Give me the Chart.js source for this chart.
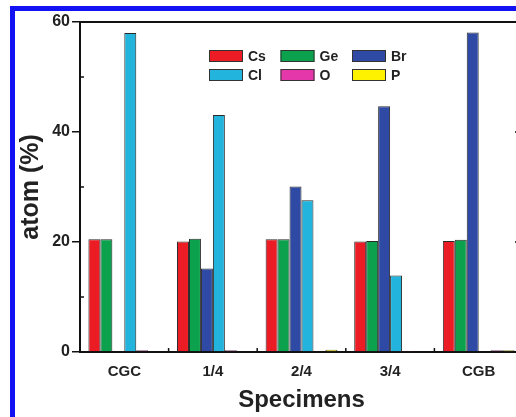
<!DOCTYPE html>
<html>
<head>
<meta charset="utf-8">
<script src="https://cdn.jsdelivr.net/npm/chart.js@4.4.0/dist/chart.umd.min.js"></script>
<style>
html, body { margin: 0; padding: 0; background: #fff; overflow: hidden; }
#wrap { position: absolute; left: 0; top: 0; width: 540px; height: 417px; }
#frame { position: absolute; left: 10px; top: 6px; width: 600px; height: 500px;
  border-top: 5px solid #1212f2; border-left: 5px solid #1212f2; }
</style>
</head>
<body>
<div id="wrap"><canvas id="chart" width="540" height="417"></canvas></div>
<div id="frame"></div>
<script>
// data
var specimens = ['CGC', '1/4', '2/4', '3/4', 'CGB'];
var elements = ['Cs', 'Ge', 'Br', 'Cl', 'O', 'P'];
var cs = [20.5, 20.1, 20.5, 20.1, 20.2];
var ge = [20.5, 20.6, 20.5, 20.2, 20.4];
var br = [0, 15.2, 30.1, 44.7, 58.1];
var cl = [58.0, 43.1, 27.6, 13.9, 0];
var ox = [0.3, 0.3, 0.1, 0.2, 0.3];
var ph = [0.1, 0.1, 0.4, 0.1, 0.3];
var yTicks = [0, 20, 40, 60];

var colors = ['#ec1c24', '#0ca14c', '#2e4aa4', '#22b4dc', '#e437aa', '#fff200'];
var series = [cs, ge, br, cl, ox, ph];

var FONT = '"Liberation Sans", Arial, sans-serif';
var INK = '#222';

var datasets = series.map(function (vals, i) {
  return {
    label: elements[i],
    data: vals,
    backgroundColor: colors[i],
    borderColor: '#2a2a2a',
    borderWidth: 1,
    borderSkipped: 'bottom',
    categoryPercentage: 0.81,
    barPercentage: 1.0
  };
});

// frame, minor ticks and the two-row legend
var extras = {
  id: 'extras',
  afterDraw: function (c) {
    var ctx = c.ctx, a = c.chartArea, ys = c.scales.y;
    ctx.save();
    ctx.strokeStyle = '#111';
    ctx.lineWidth = 2;
    ctx.beginPath();
    ctx.moveTo(a.left - 1, a.top);
    ctx.lineTo(a.right, a.top);
    ctx.lineTo(a.right, a.bottom);
    ctx.stroke();

    ctx.lineWidth = 1.5;
    ctx.beginPath();
    [10, 30, 50].forEach(function (v) {
      var py = ys.getPixelForValue(v);
      ctx.moveTo(a.left, py); ctx.lineTo(a.left + 4, py);
      ctx.moveTo(a.right, py); ctx.lineTo(a.right - 5, py);
    });
    yTicks.forEach(function (v) {
      var py = ys.getPixelForValue(v);
      ctx.moveTo(a.right, py); ctx.lineTo(a.right - 8, py);
    });
    var w = (a.right - a.left) / specimens.length;
    for (var i = 1; i < specimens.length; i++) {
      var px = a.left + i * w;
      ctx.moveTo(px, a.bottom); ctx.lineTo(px, a.bottom - 4);
    }
    ctx.stroke();

    // legend
    ctx.font = 'bold 14px ' + FONT;
    ctx.textBaseline = 'middle';
    ctx.textAlign = 'left';
    c.data.datasets.forEach(function (d, i) {
      var col = i % 3, row = Math.floor(i / 3);
      var bx = a.left + 129 + col * 71.5;
      var by = a.top + 28 + row * 19;
      ctx.fillStyle = d.backgroundColor;
      ctx.fillRect(bx, by, 34, 12);
      ctx.lineWidth = 1;
      ctx.strokeStyle = '#333';
      ctx.strokeRect(bx + 0.5, by + 0.5, 33, 11);
      ctx.fillStyle = INK;
      ctx.fillText(d.label, bx + 39, by + 7);
    });
    ctx.restore();
  }
};

var chart = new Chart(document.getElementById('chart'), {
  type: 'bar',
  data: { labels: specimens, datasets: datasets },
  plugins: [extras],
  options: {
    responsive: false,
    animation: false,
    layout: { padding: { top: 22, right: 17, left: 0, bottom: 0 } },
    plugins: { legend: { display: false }, tooltip: { enabled: false } },
    scales: {
      x: {
        grid: { display: false },
        border: { display: true, color: '#111', width: 2 },
        ticks: { color: INK, padding: 3, font: { family: FONT, size: 15, weight: 'bold' } },
        title: { display: true, text: 'Specimens', color: INK, padding: { top: 0, bottom: 2 },
          font: { family: FONT, size: 24, weight: 'bold' } },
        afterFit: function (s) { s.height = 65; }
      },
      y: {
        min: 0,
        max: 60,
        afterBuildTicks: function (s) { s.ticks = yTicks.map(function (v) { return { value: v }; }); },
        grid: { display: true, drawOnChartArea: false, drawTicks: true, tickLength: 8, color: '#111', lineWidth: 1.5 },
        border: { display: true, color: '#111', width: 2 },
        ticks: { color: INK, padding: 2, font: { family: FONT, size: 16, weight: 'bold' } },
        title: { display: true, text: 'atom (%)', color: INK, padding: { top: 16, bottom: 0 },
          font: { family: FONT, size: 25, weight: 'bold' } },
        afterFit: function (s) { s.width = 80; }
      }
    }
  }
});
</script>
</body>
</html>
